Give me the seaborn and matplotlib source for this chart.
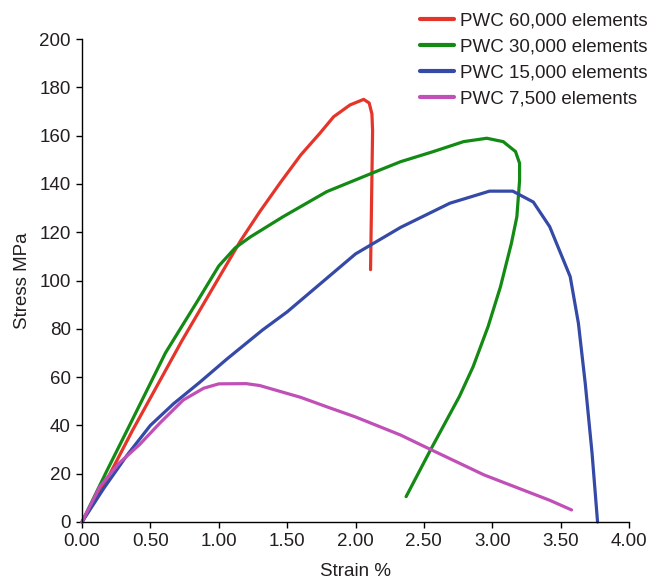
import matplotlib
matplotlib.use("Agg")
import matplotlib.pyplot as plt
import seaborn as sns
import pandas as pd
from matplotlib.ticker import FormatStrFormatter
from matplotlib.lines import Line2D

# ---- data ----
labels = ["PWC 60,000 elements", "PWC 30,000 elements",
          "PWC 15,000 elements", "PWC 7,500 elements"]
colors = ["#e5352a", "#138a14", "#3549a6", "#c050b8"]

x60 = [0, 0.2, 0.37, 0.73, 1.02, 1.16, 1.3, 1.45, 1.6, 1.74, 1.84, 1.96, 2.06,
       2.1, 2.12, 2.125, 2.118, 2.11]
y60 = [0, 19.5, 38, 75, 103, 116.5, 128.5, 140.5, 152, 161, 167.8, 172.7, 175,
       173.5, 169, 162, 135, 104.5]

x30 = [0, 0.18, 0.33, 0.61, 0.85, 1.0, 1.12, 1.23, 1.47, 1.79, 2.18, 2.33,
       2.57, 2.79, 2.96, 3.08, 3.17, 3.20, 3.20, 3.18, 3.14, 3.06, 2.97, 2.86,
       2.76, 2.55, 2.37]
y30 = [0, 21, 38, 70, 92, 106, 113.5, 118, 126.4, 136.8, 145.8, 149.2,
       153.4, 157.5, 158.9, 157.5, 153.4, 148.5, 141.6, 126.4, 115.4, 97.4, 81,
       64.3, 52, 30, 10.5]

x15 = [0, 0.16, 0.33, 0.5, 0.67, 0.86, 1.06, 1.32, 1.5, 1.75, 2.0, 2.33, 2.69,
       2.98, 3.15, 3.30, 3.42, 3.57, 3.63, 3.68, 3.73, 3.77]
y15 = [0, 14, 27.7, 40, 49, 57.8, 67.5, 79.5, 87, 99, 111, 122, 132,
       137, 137, 132.5, 122.3, 101.6, 82.3, 57.4, 28.4, 0]

x75 = [0, 0.13, 0.27, 0.42, 0.57, 0.74, 0.89, 1.0, 1.2, 1.3, 1.6, 1.8, 2.0,
       2.33, 2.55, 2.94, 3.42, 3.58]
y75 = [0, 14.6, 24.3, 32, 41, 50.5, 55.4, 57.2, 57.3, 56.5, 51.6, 47.5, 43.5,
       36, 30, 19.5, 9, 5]

xticks = [0.0, 0.5, 1.0, 1.5, 2.0, 2.5, 3.0, 3.5, 4.0]
yticks = list(range(0, 201, 20))

frames = []
for lab, xs, ys in zip(labels, [x60, x30, x15, x75], [y60, y30, y15, y75]):
    frames.append(pd.DataFrame({"Strain": xs, "Stress": ys, "series": lab}))
df = pd.concat(frames, ignore_index=True)

# ---- plotting ----
sns.set_theme(style="ticks")
plt.rcParams["font.family"] = ["Liberation Sans", "DejaVu Sans"]
txt = "#231f20"

fig = plt.figure(figsize=(6.65, 5.81), dpi=100)
ax = fig.add_axes([82/665, 59/581, 547/665, 483/581])

sns.lineplot(data=df, x="Strain", y="Stress", hue="series", hue_order=labels,
             palette=colors, sort=False, estimator=None, linewidth=2.3,
             ax=ax, legend=False)
for ln in ax.lines:
    ln.set_clip_on(False)
    ln.set_solid_joinstyle("round")

ax.set_xlim(0, 4)
ax.set_ylim(0, 200)
ax.set_xticks(xticks)
ax.set_yticks(yticks)
ax.xaxis.set_major_formatter(FormatStrFormatter("%.2f"))
for s in ["top", "right"]:
    ax.spines[s].set_visible(False)
for s in ["left", "bottom"]:
    ax.spines[s].set_linewidth(1.0)
    ax.spines[s].set_color("black")
ax.tick_params(axis="both", direction="out", length=4, width=1.0,
               labelsize=13.5, labelcolor=txt, color="black", pad=4)
ax.set_xlabel("Strain %", fontsize=13.5, color=txt, labelpad=9)
ax.set_ylabel("Stress MPa", fontsize=13.5, color=txt, labelpad=6)

handles = [Line2D([0], [0], color=c, lw=3.0) for c in colors]
fig.legend(handles, labels, loc="upper left",
           bbox_to_anchor=(420/665, 1 - 12/581), frameon=False,
           fontsize=13.5, handlelength=1.8, handletextpad=0.35,
           labelspacing=0.485, borderpad=0, borderaxespad=0,
           labelcolor=txt)

fig.savefig("out.png", dpi=100)
